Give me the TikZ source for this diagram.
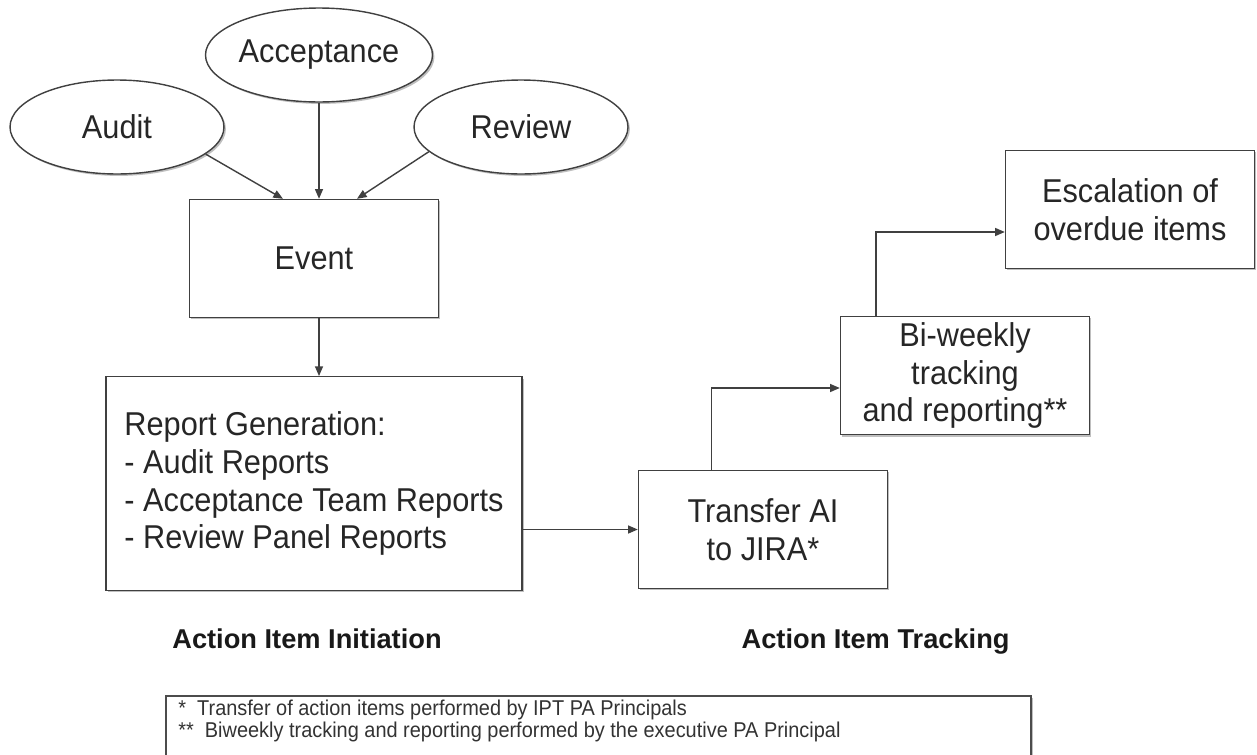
\documentclass[tikz,border=0pt]{standalone}
\usepackage{fontspec}
\setmainfont{Liberation Sans}
\newfontfamily\boxfont[FakeStretch=0.93]{Liberation Sans}
\usepackage{tikz}
\usetikzlibrary{shapes.geometric,arrows.meta,positioning,calc,shadows}

\begin{document}
\begin{tikzpicture}[x=0.02cm, y=-0.02cm,
		softshadow/.style={drop shadow={shadow xshift=1.1pt, shadow yshift=-1.1pt, opacity=0.25, fill=black}},
		box/.style={draw=black!75, line width=0.8pt, fill=white, softshadow, text=black!85, minimum width=4.98cm, minimum height=2.36cm, align=center, font=\boxfont\fontsize{18.8}{21.6}\selectfont},
		oval/.style={draw=black!75, line width=0.8pt, fill=white, softshadow, text=black!85, ellipse, minimum width=4.28cm, minimum height=1.88cm, inner sep=0pt, font=\boxfont\fontsize{18.8}{21.6}\selectfont},
		arr/.style={draw=black!75, line width=0.8pt, -{Triangle[length=5.5pt,width=4.5pt]}},
		lbl/.style={text=black!90, anchor=base, font=\bfseries\fontsize{15.5}{18}\selectfont}]
		\useasboundingbox (0,0) rectangle (1257,754);
		\clip (0,0) rectangle (1257,754);

		% sources of events
		\node[oval] (audit) at (117,127) {Audit};
		\node[oval] (accept) at (319,55) {Acceptance};
		\node[oval] (review) at (521,127) {Review};

		% initiation
		\node[box] (event) at (314,258.5) {Event};
		\node[box, minimum width=8.32cm, minimum height=4.27cm, align=left] (report) at (314,483.5) {%
			Report Generation:\\
			- Audit Reports\\
			- Acceptance Team Reports\\
			- Review Panel Reports%
		};

		% tracking
		\node[box] (transfer) at (763,529.5) {Transfer AI\\to JIRA*};
		\node[box] (biweekly) at (965,375.5) {Bi-weekly\\tracking\\and reporting**};
		\node[box] (escal) at (1130,209.5) {Escalation of\\overdue items};

		\draw[arr] (audit.-17) -- ($(event.north)+(-31,0)$);
		\draw[arr] (accept) -- (accept |- event.north);
		\draw[arr] (review.195) -- ($(event.north)+(43,0)$);
		\draw[arr] (event.south -| accept) -- (report.north -| accept);
		\draw[arr] (report.east |- transfer.west) -- (transfer.west);
		\draw[arr] ([xshift=-1.03cm]transfer.north) |- ([yshift=-0.25cm]biweekly.west);
		\draw[arr] ([xshift=-1.78cm]biweekly.north) |- ([yshift=-0.45cm]escal.west);

		\node[lbl] (init) at (307,648) {Action Item Initiation};
		\node[lbl] (track) at (875.6,648) {Action Item Tracking};

		% footnotes
		\node[draw=black!70, line width=1pt, fill=white, softshadow, anchor=north west, minimum width=17.3cm, minimum height=1.6cm, inner sep=0pt] (notebox) at (165,695) {};
		\node[anchor=north west, inner sep=0pt, align=left, text=black!80, font=\boxfont\fontsize{12.2}{11.3}\selectfont] (notes) at (178,700) {%
			*~~Transfer of action items performed by IPT PA Principals\\
			**~~Biweekly tracking and reporting performed by the executive PA Principal%
		};
	\end{tikzpicture}
\end{document}
